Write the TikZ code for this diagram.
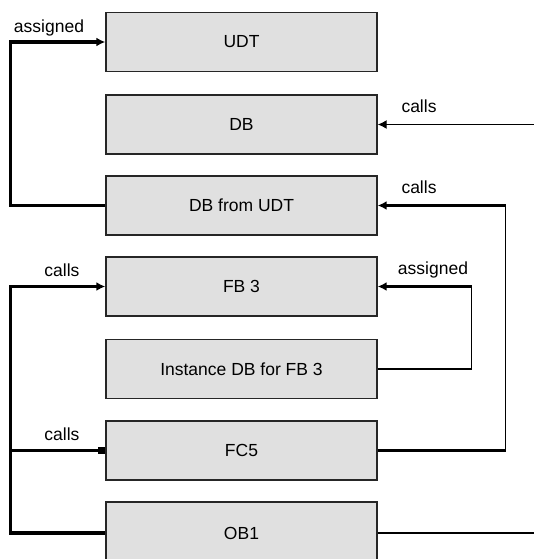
\documentclass[tikz,border=0pt]{standalone}
\usepackage{fontspec}
\setmainfont{Liberation Sans}
\usetikzlibrary{arrows.meta,positioning}
\definecolor{boxgray}{HTML}{E0E0E0}

\begin{document}
\begin{tikzpicture}[x=1pt,y=1pt,
  font=\fontsize{17.5}{20}\selectfont,
  blk/.style={draw=black!85,line width=1.4pt,fill=boxgray,minimum width=271pt,minimum height=59pt,inner sep=0pt},
  bus/.style={line width=3.4pt},
  wire/.style={line width=2.6pt},
  thin wire/.style={line width=1.4pt},
  tip/.style={-{Latex[length=9pt,width=9pt]}},
  sqtip/.style={-{Square[length=7pt,width=7pt]}}]
\clip (0,0) rectangle (534,-559);
% blocks
\node[blk] (udt) at (241.5,-42)    {UDT};
\node[blk] (db)  at (241.5,-124.5) {DB};
\node[blk] (dbu) at (241.5,-205.5) {DB from UDT};
\node[blk] (fb3) at (241.5,-286.5) {FB 3};
\node[blk] (idb) at (241.5,-369)   {Instance DB for FB 3};
\node[blk] (fc5) at (241.5,-450.5) {FC5};
\node[blk,minimum height=62pt] (ob1) at (241.5,-533) {OB1};
% labels
\node (asg1) at (49,-28)   {assigned};
\node (cl1)  at (419,-106) {calls};
\node (cl2)  at (419,-187) {calls};
\node (asg2) at (433,-270) {assigned};
\node (cl3)  at (62,-270)  {calls};
\node (cl4)  at (62,-434)  {calls};
% connectors
\coordinate (in1) at (534,-124.5);
\coordinate (out1) at (534,-533);
\draw[bus,tip] (dbu.west) -- ++(-95,0) |- (udt.west);
\draw[thin wire,tip] (in1) -- (db.east);
\draw[wire] (fc5.east) -- ++(128,0) coordinate (r2);
\draw[thin wire] (r2) -- (r2 |- dbu.east);
\draw[wire,tip] (r2 |- dbu.east) -- (dbu.east);
\draw[thin wire] (idb.east) -- ++(94,0) coordinate (r1) -- (r1 |- fb3.east);
\draw[wire,tip] (r1 |- fb3.east) -- (fb3.east);
\draw[bus,tip] (ob1.west) -- ++(-95,0) coordinate (bl) |- (fb3.west);
\draw[bus,sqtip] (bl |- fc5.west) -- (fc5.west);
\draw[wire] (ob1.east) -- (out1);
\end{tikzpicture}
\end{document}
